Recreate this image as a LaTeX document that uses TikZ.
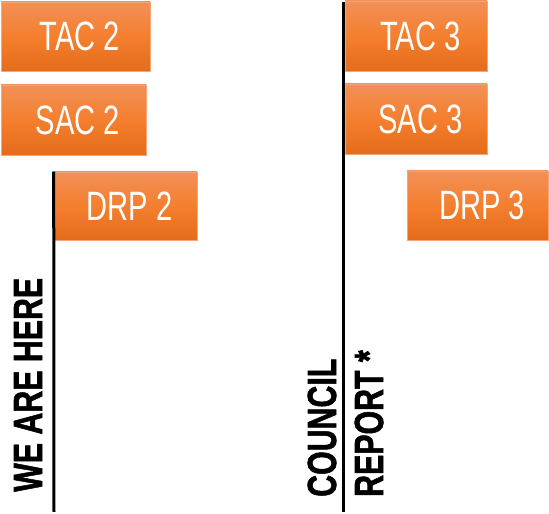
\documentclass[tikz,border=0pt]{standalone}
\usepackage{fontspec}
\setmainfont{Liberation Sans}
\newfontfamily\heavyfont[FakeBold=1.6]{Liberation Sans Bold}
\usepackage{graphicx}
\usepackage{tikz}

\definecolor{flagtop}{HTML}{F29058}
\definecolor{flagmid}{HTML}{F47F2E}
\definecolor{flagbot}{HTML}{E46C1A}
\definecolor{flagrim}{HTML}{F6A577}

\newcommand{\flagtext}[1]{\hspace*{9pt}\scalebox{0.71}[1]{\fontsize{41}{43}\selectfont #1}}
\newcommand{\poletext}[1]{\scalebox{0.745}[1]{\fontsize{40.7}{43}\heavyfont #1}}

\begin{document}
\begin{tikzpicture}[x=1pt, y=1pt,
        flag/.style={shape=rectangle, draw=flagrim, line width=0.6pt, top color=flagtop, bottom color=flagbot, middle color=flagmid, text=white, inner sep=0pt},
        pole/.style={line width=3pt, black},
        poletag/.style={rotate=90, inner sep=0pt, text=black, anchor=base west}]
            \useasboundingbox (0, 0) rectangle (549, 514);

            \node[flag, minimum width=149pt, minimum height=69pt] (tac2) at (75.5, 477.5) {\flagtext{TAC 2}};
            \node[flag, minimum width=145pt, minimum height=70pt] (sac2) at (73.5, 394) {\flagtext{SAC 2}};
            \node[flag, minimum width=144pt, minimum height=68pt] (drp2) at (125, 308) {\flagtext{DRP 2}};
            \node[flag, minimum width=142pt, minimum height=70pt] (tac3) at (416, 478) {\flagtext{TAC 3}};
            \node[flag, minimum width=142pt, minimum height=70pt] (sac3) at (416, 395) {\flagtext{SAC 3}};
            \node[flag, minimum width=141pt, minimum height=69pt] (drp3) at (477.5, 308.5) {\flagtext{DRP 3}};

            \coordinate (foot2) at (54, 2);
            \coordinate (top3) at (343, 512);
            \coordinate (foot3) at (343, 2);

            \draw[pole] ([xshift=1pt]drp2.north west) -- (foot2);
            \draw[pole] (top3) -- (foot3);

            \node[poletag] (here) at (42, 22) {\poletext{WE ARE HERE}};
            \node[poletag] (council) at (336, 17) {\poletext{COUNCIL}};
            \node[poletag] (report) at (383, 17) {\poletext{REPORT *}};
        \end{tikzpicture}
\end{document}
